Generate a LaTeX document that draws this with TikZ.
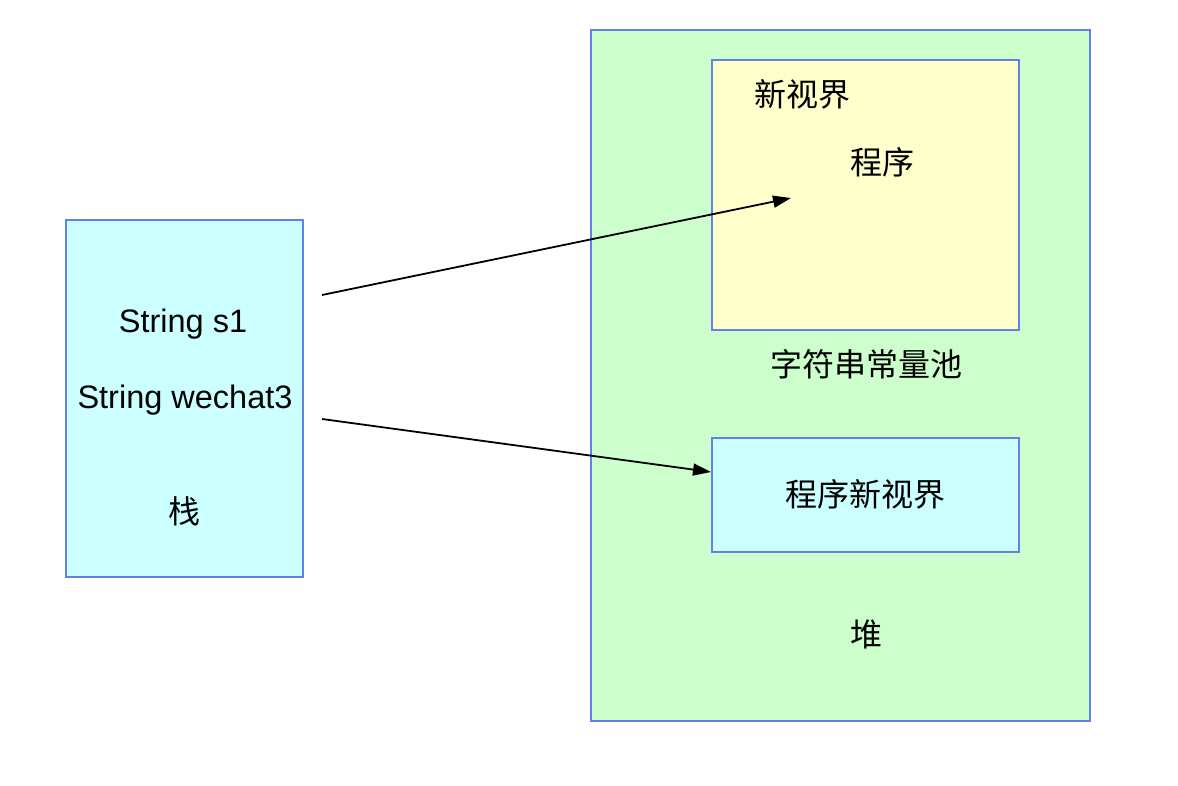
\documentclass[tikz,border=0pt]{standalone}
\usepackage{fontspec}
\setmainfont{Liberation Sans}
\newfontfamily\cjk{Noto Sans CJK SC}
\usetikzlibrary{arrows.meta}
\definecolor{bordercol}{RGB}{100,128,232}
\definecolor{cyanfill}{RGB}{204,255,255}
\definecolor{greenfill}{RGB}{204,255,204}
\definecolor{yellowfill}{RGB}{255,255,204}
\tikzset{
  box/.style={draw=bordercol, line width=1.5pt, inner sep=0pt},
  lbl/.style={font=\fontsize{32.5}{38}\selectfont, inner sep=0pt, anchor=center},
  clbl/.style={font=\cjk\fontsize{32}{38}\selectfont, inner sep=0pt, anchor=center},
  conn/.style={line width=1.8pt, -{Triangle[length=18pt,width=12pt]}}
}
\begin{document}
\begin{tikzpicture}[x=1pt,y=-1pt]
\useasboundingbox[fill=white] (0,0) rectangle (1178,786);
% boxes
\node[box, fill=cyanfill, minimum width=237pt, minimum height=357pt] (stack) at (184.5,398.5) {};
\node[box, fill=greenfill, minimum width=499pt, minimum height=691pt] (heap) at (840.5,375.5) {};
\node[box, fill=yellowfill, minimum width=307pt, minimum height=270pt] (pool) at (865.5,195) {};
\node[box, fill=cyanfill, minimum width=307pt, minimum height=114pt] (obj) at (865.5,495) {};
% texts
\node[lbl] (s1) at (183,324) {String s1};
\node[lbl] (wc) at (185,400) {String wechat3};
\node[clbl] (zhan) at (184,511) {栈};
\node[clbl] (xsj) at (802,94) {新视界};
\node[clbl] (cx) at (882,162) {程序};
\node[clbl] (pooltxt) at (866,364) {字符串常量池};
\node[clbl] (objtxt) at (865,494) {程序新视界};
\node[clbl] (dui) at (866,634) {堆};
% connectors
\coordinate (a1) at (322,295);
\coordinate (b1) at (791,198);
\coordinate (a2) at (322,419);
\coordinate (b2) at (711,472);
\draw[conn] (a1) -- (b1);
\draw[conn] (a2) -- (b2);
\end{tikzpicture}
\end{document}
